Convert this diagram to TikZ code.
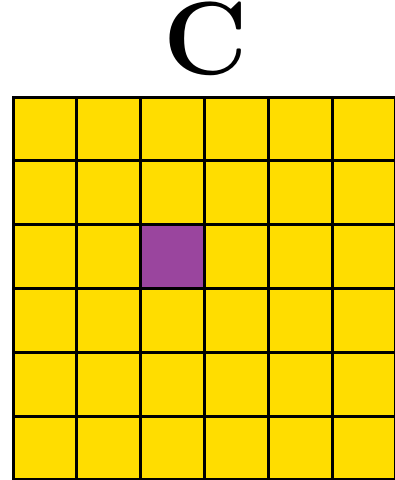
\documentclass[tikz,border=0pt]{standalone}
\usepackage{tikz}
\definecolor{cellyellow}{HTML}{FFDD00}
\definecolor{cellpurple}{HTML}{9A459E}
\tikzset{
  cell/.style={draw=black, line width=3pt, fill=cellyellow, minimum size=63.8pt, inner sep=0pt, outer sep=0pt, anchor=north west},
  hot/.style={fill=cellpurple},
}
\begin{document}
\begin{tikzpicture}[x=1pt,y=-1pt]
\useasboundingbox (0,0) rectangle (395,480);
\begin{scope}
\clip (0,0) rectangle (395,480);
\foreach \r in {0,...,5}{
  \foreach \c in {0,...,5}{
    \node[cell] (c\r\c) at ({13+63.8*\c},{97+63.8*\r}) {};
  }
}
\node[cell,hot] (c22) at ({13+63.8*2},{97+63.8*2}) {};
\end{scope}
\node[inner sep=0pt] (title) at (206,39) {\fontsize{104}{104}\selectfont\bfseries C};
\end{tikzpicture}
\end{document}
